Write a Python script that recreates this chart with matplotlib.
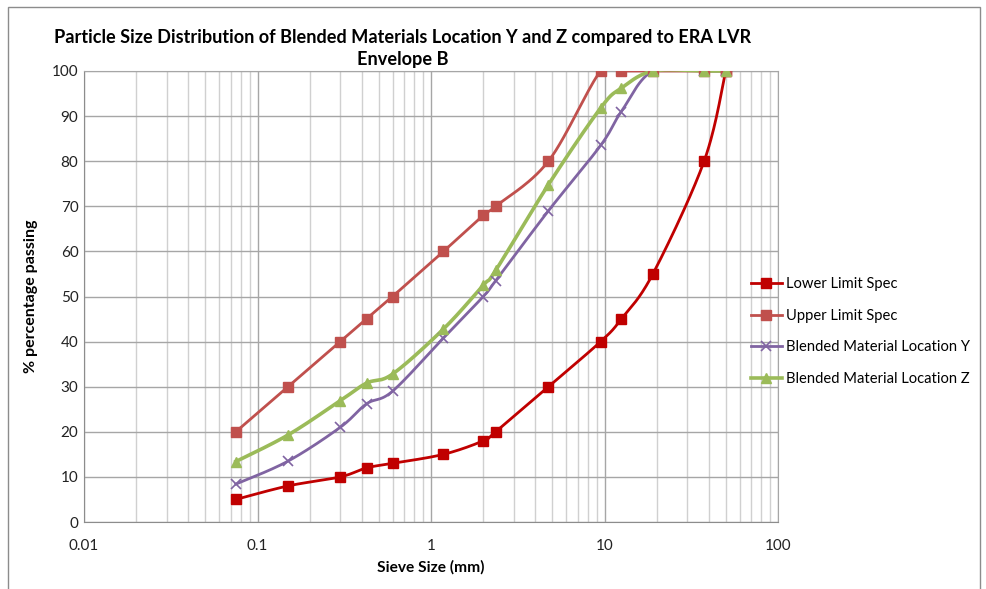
"""Particle size distribution chart (blended materials vs ERA LVR envelope B)."""

import numpy as np
import matplotlib
matplotlib.use("Agg")
import matplotlib.pyplot as plt
from matplotlib.patches import Rectangle
from matplotlib.ticker import LogLocator, FixedLocator, NullFormatter

plt.rcParams["font.family"] = ["Lato", "DejaVu Sans"]

sieve_mm = [0.075, 0.15, 0.3, 0.425, 0.6, 1.18, 2.0, 2.36, 4.75, 9.5, 12.5, 19, 37.5, 50]
lower_spec = [5, 8, 10, 12, 13, 15, 18, 20, 30, 40, 45, 55, 80, 100]
upper_spec = [20, 30, 40, 45, 50, 60, 68, 70, 80, 100, 100, 100, 100, 100]
location_y = [8.4, 13.5, 21, 26.2, 29, 40.8, 50, 53.5, 69, 83.5, 91, 100, 100, 100]
location_z = [13.4, 19.3, 26.9, 30.8, 32.8, 42.8, 52.5, 55.8, 74.8, 91.8, 96.2, 100, 100, 100]

series = [
    ("Lower Limit Spec", lower_spec, "#C00000", "s", 2.0),
    ("Upper Limit Spec", upper_spec, "#C0504D", "s", 2.0),
    ("Blended Material Location Y", location_y, "#8064A2", "x", 2.0),
    ("Blended Material Location Z", location_z, "#9BBB59", "^", 2.6),
]


def smooth(xs, ys, n=30):
    """Excel-like smoothed line: Catmull-Rom through the points in log-x space."""
    px = np.log10(np.asarray(xs, float))
    py = np.asarray(ys, float)
    px = np.concatenate([[px[0]], px, [px[-1]]])
    py = np.concatenate([[py[0]], py, [py[-1]]])
    out_x, out_y = [], []
    t = np.linspace(0, 1, n)
    for i in range(1, len(px) - 2):
        p0, p1, p2, p3 = (np.array([px[j], py[j]]) for j in range(i - 1, i + 3))
        c1 = p1 + (p2 - p0) / 6
        c2 = p2 - (p3 - p1) / 6
        seg = ((1 - t) ** 3)[:, None] * p1 + (3 * (1 - t) ** 2 * t)[:, None] * c1 \
            + (3 * (1 - t) * t ** 2)[:, None] * c2 + (t ** 3)[:, None] * p2
        out_x.extend(seg[:, 0])
        out_y.extend(seg[:, 1])
    return 10 ** np.array(out_x), np.array(out_y)


fig = plt.figure(figsize=(9.86, 5.89), dpi=100)
fig.patches.append(Rectangle((8 / 986, -0.05), 972 / 986, 1.05 - 7 / 589,
                             transform=fig.transFigure, fill=False,
                             edgecolor="#8c8c8c", linewidth=1.0))
ax = fig.add_axes([84 / 986, 1 - 522 / 589, (778 - 84) / 986, (522 - 71) / 589])

ax.set_xscale("log")
ax.set_xlim(0.01, 100)
ax.set_ylim(0, 100)
ax.xaxis.set_major_locator(FixedLocator([0.01, 0.1, 1, 10, 100]))
ax.set_xticklabels(["0.01", "0.1", "1", "10", "100"])
ax.xaxis.set_minor_locator(LogLocator(base=10, subs=np.arange(2, 10)))
ax.xaxis.set_minor_formatter(NullFormatter())
ax.set_yticks(np.arange(0, 101, 10))

ax.grid(which="major", axis="both", color="#a6a6a6", linewidth=1.0)
ax.grid(which="minor", axis="x", color="#d0d0d0", linewidth=1.0)
ax.set_axisbelow(True)
for side in ["top", "right"]:
    ax.spines[side].set_color("#a6a6a6")
for side in ["left", "bottom"]:
    ax.spines[side].set_color("#8c8c8c")
ax.tick_params(which="both", length=0, labelsize=11, colors="#222222")
ax.tick_params(axis="y", pad=4)
ax.tick_params(axis="x", pad=12)

for name, vals, color, marker, lw in series:
    sx, sy = smooth(sieve_mm, vals)
    ax.plot(sx, sy, color=color, linewidth=lw, zorder=3)
    mkw = dict(markersize=7.5, markeredgewidth=1.0)
    if marker == "x":
        mkw = dict(markersize=7, markeredgewidth=1.2)
    ax.plot(sieve_mm, vals, linestyle="none", marker=marker, color=color,
            markeredgecolor=color, zorder=4, **mkw)
    ax.plot([], [], color=color, linewidth=lw, marker=marker, label=name, **mkw)

fig.text(403 / 986, 1 - 38 / 589, "Particle Size Distribution of Blended Materials Location Y and Z compared to ERA LVR",
         ha="center", va="center", fontsize=13.1, fontweight="bold")
fig.text(403 / 986, 1 - 60 / 589, "Envelope B",
         ha="center", va="center", fontsize=13.1, fontweight="bold")
ax.set_xlabel("Sieve Size (mm)", fontsize=11.2, fontweight="bold", labelpad=5)
ax.set_ylabel("% percentage passing", fontsize=11.5, fontweight="bold", labelpad=10)

ax.legend(loc="upper left", bbox_to_anchor=(751 / 986, 1 - 277 / 589),
          bbox_transform=fig.transFigure, frameon=False,
          fontsize=10.6, handlelength=2.1, handletextpad=0.25, labelspacing=1.2,
          borderaxespad=0, borderpad=0)

fig.savefig("out.png", dpi=100)
